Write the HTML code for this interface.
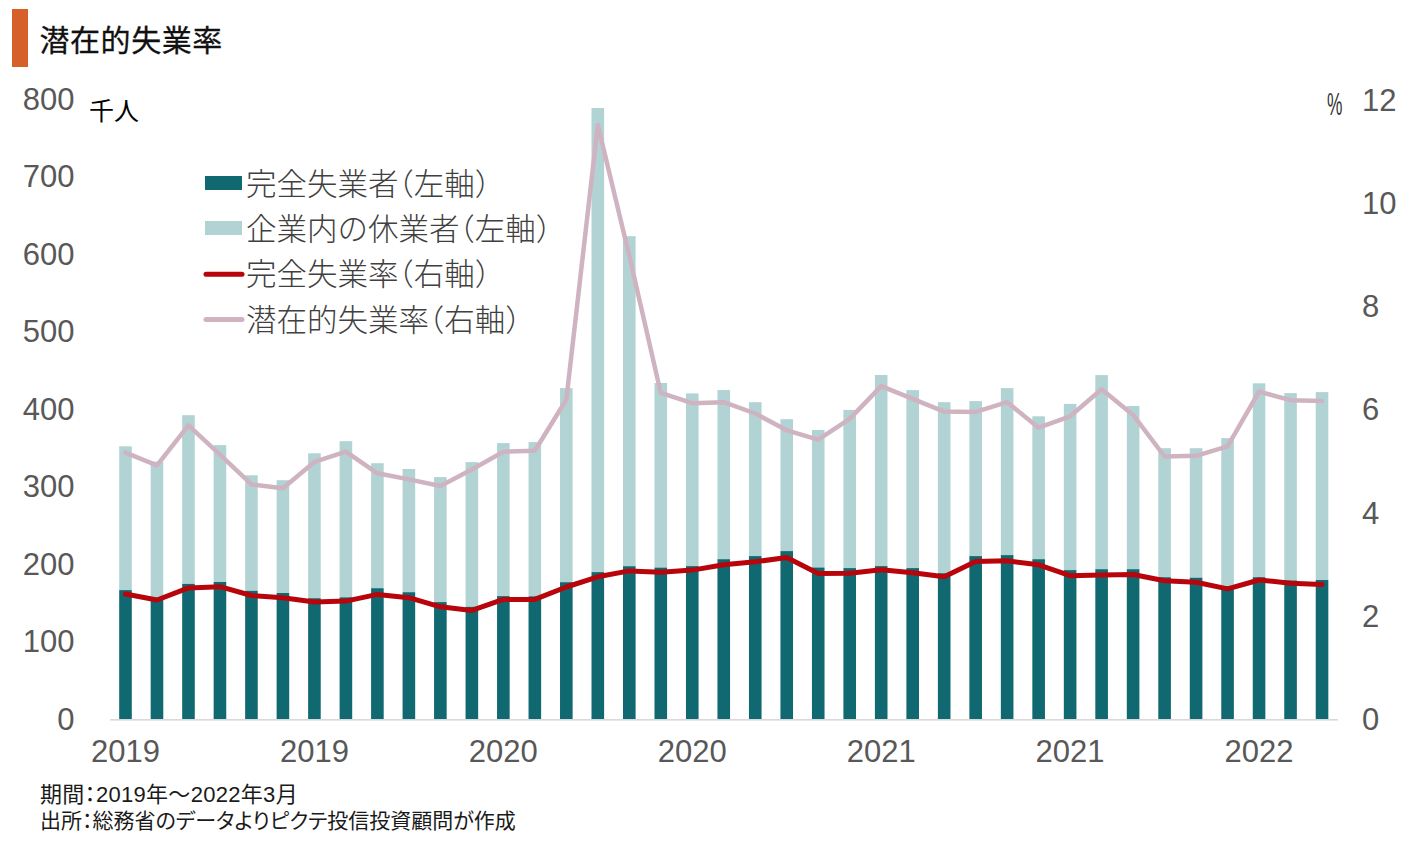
<!DOCTYPE html>
<html lang="ja"><head><meta charset="utf-8"><title>潜在的失業率</title>
<style>
html,body{margin:0;padding:0;background:#fff;}
body{width:1418px;height:842px;position:relative;overflow:hidden;font-family:'Liberation Sans','Noto Sans CJK JP',sans-serif;}
.bar{position:absolute;left:12px;top:9px;width:16px;height:58px;background:#D6602A;}
.title{position:absolute;left:39.5px;top:19px;font-size:30px;font-weight:400;letter-spacing:0.55px;color:#111;-webkit-text-stroke:0.3px #111;line-height:44px;white-space:nowrap;}
.unit{position:absolute;left:89px;top:95px;font-size:25px;font-weight:400;color:#000;line-height:32px;white-space:nowrap;}
.pct{position:absolute;left:1326.5px;top:86.5px;font-size:31px;color:#333;line-height:36px;transform:scaleX(0.56);transform-origin:left center;}
.foot{position:absolute;left:40px;font-size:20px;color:#1a1a1a;line-height:26px;white-space:nowrap;}
.hc{font-feature-settings:"halt";}
svg{position:absolute;left:0;top:0;}
svg text{font-family:'Liberation Sans','Noto Sans CJK JP',sans-serif;}
.ax text{font-size:31px;fill:#585858;}
.lg text{font-size:30.5px;font-weight:300;fill:#404040;}
.p{font-feature-settings:"halt";}
</style></head><body>
<div class="bar"></div>
<div class="title">潜在的失業率</div>
<svg width="1418" height="842" viewBox="0 0 1418 842">
<g>
<rect x="119.19" y="446.3" width="12.6" height="143.8" fill="#B2D3D4"/>
<rect x="119.19" y="590.1" width="12.6" height="128.9" fill="#106870"/>
<rect x="150.68" y="461.6" width="12.6" height="135.9" fill="#B2D3D4"/>
<rect x="150.68" y="597.5" width="12.6" height="121.5" fill="#106870"/>
<rect x="182.17" y="415.2" width="12.6" height="168.7" fill="#B2D3D4"/>
<rect x="182.17" y="583.9" width="12.6" height="135.1" fill="#106870"/>
<rect x="213.65" y="445.1" width="12.6" height="136.9" fill="#B2D3D4"/>
<rect x="213.65" y="582.0" width="12.6" height="137.0" fill="#106870"/>
<rect x="245.14" y="475.3" width="12.6" height="115.5" fill="#B2D3D4"/>
<rect x="245.14" y="590.8" width="12.6" height="128.2" fill="#106870"/>
<rect x="276.63" y="480.2" width="12.6" height="112.8" fill="#B2D3D4"/>
<rect x="276.63" y="593.0" width="12.6" height="126.0" fill="#106870"/>
<rect x="308.12" y="453.3" width="12.6" height="144.9" fill="#B2D3D4"/>
<rect x="308.12" y="598.2" width="12.6" height="120.8" fill="#106870"/>
<rect x="339.61" y="441.2" width="12.6" height="156.1" fill="#B2D3D4"/>
<rect x="339.61" y="597.3" width="12.6" height="121.7" fill="#106870"/>
<rect x="371.09" y="463.2" width="12.6" height="125.0" fill="#B2D3D4"/>
<rect x="371.09" y="588.2" width="12.6" height="130.8" fill="#106870"/>
<rect x="402.58" y="469.0" width="12.6" height="123.2" fill="#B2D3D4"/>
<rect x="402.58" y="592.2" width="12.6" height="126.8" fill="#106870"/>
<rect x="434.07" y="477.1" width="12.6" height="125.0" fill="#B2D3D4"/>
<rect x="434.07" y="602.1" width="12.6" height="116.9" fill="#106870"/>
<rect x="465.56" y="462.1" width="12.6" height="144.7" fill="#B2D3D4"/>
<rect x="465.56" y="606.8" width="12.6" height="112.2" fill="#106870"/>
<rect x="497.05" y="443.1" width="12.6" height="153.0" fill="#B2D3D4"/>
<rect x="497.05" y="596.1" width="12.6" height="122.9" fill="#106870"/>
<rect x="528.53" y="442.1" width="12.6" height="154.2" fill="#B2D3D4"/>
<rect x="528.53" y="596.3" width="12.6" height="122.7" fill="#106870"/>
<rect x="560.02" y="388.1" width="12.6" height="194.1" fill="#B2D3D4"/>
<rect x="560.02" y="582.2" width="12.6" height="136.8" fill="#106870"/>
<rect x="591.51" y="108.0" width="12.6" height="464.1" fill="#B2D3D4"/>
<rect x="591.51" y="572.1" width="12.6" height="146.9" fill="#106870"/>
<rect x="623.00" y="236.2" width="12.6" height="330.0" fill="#B2D3D4"/>
<rect x="623.00" y="566.2" width="12.6" height="152.8" fill="#106870"/>
<rect x="654.49" y="383.0" width="12.6" height="184.6" fill="#B2D3D4"/>
<rect x="654.49" y="567.6" width="12.6" height="151.4" fill="#106870"/>
<rect x="685.97" y="393.4" width="12.6" height="172.7" fill="#B2D3D4"/>
<rect x="685.97" y="566.1" width="12.6" height="152.9" fill="#106870"/>
<rect x="717.46" y="390.1" width="12.6" height="169.1" fill="#B2D3D4"/>
<rect x="717.46" y="559.2" width="12.6" height="159.8" fill="#106870"/>
<rect x="748.95" y="402.2" width="12.6" height="153.9" fill="#B2D3D4"/>
<rect x="748.95" y="556.1" width="12.6" height="162.9" fill="#106870"/>
<rect x="780.44" y="419.2" width="12.6" height="131.9" fill="#B2D3D4"/>
<rect x="780.44" y="551.1" width="12.6" height="167.9" fill="#106870"/>
<rect x="811.93" y="430.0" width="12.6" height="137.5" fill="#B2D3D4"/>
<rect x="811.93" y="567.5" width="12.6" height="151.5" fill="#106870"/>
<rect x="843.41" y="409.9" width="12.6" height="158.2" fill="#B2D3D4"/>
<rect x="843.41" y="568.1" width="12.6" height="150.9" fill="#106870"/>
<rect x="874.90" y="375.0" width="12.6" height="191.1" fill="#B2D3D4"/>
<rect x="874.90" y="566.1" width="12.6" height="152.9" fill="#106870"/>
<rect x="906.39" y="390.1" width="12.6" height="178.0" fill="#B2D3D4"/>
<rect x="906.39" y="568.1" width="12.6" height="150.9" fill="#106870"/>
<rect x="937.88" y="402.2" width="12.6" height="171.0" fill="#B2D3D4"/>
<rect x="937.88" y="573.2" width="12.6" height="145.8" fill="#106870"/>
<rect x="969.37" y="401.1" width="12.6" height="155.0" fill="#B2D3D4"/>
<rect x="969.37" y="556.1" width="12.6" height="162.9" fill="#106870"/>
<rect x="1000.85" y="388.1" width="12.6" height="167.0" fill="#B2D3D4"/>
<rect x="1000.85" y="555.1" width="12.6" height="163.9" fill="#106870"/>
<rect x="1032.34" y="416.3" width="12.6" height="142.9" fill="#B2D3D4"/>
<rect x="1032.34" y="559.2" width="12.6" height="159.8" fill="#106870"/>
<rect x="1063.83" y="403.9" width="12.6" height="166.2" fill="#B2D3D4"/>
<rect x="1063.83" y="570.1" width="12.6" height="148.9" fill="#106870"/>
<rect x="1095.32" y="375.1" width="12.6" height="194.1" fill="#B2D3D4"/>
<rect x="1095.32" y="569.2" width="12.6" height="149.8" fill="#106870"/>
<rect x="1126.81" y="406.0" width="12.6" height="163.2" fill="#B2D3D4"/>
<rect x="1126.81" y="569.2" width="12.6" height="149.8" fill="#106870"/>
<rect x="1158.29" y="448.2" width="12.6" height="129.0" fill="#B2D3D4"/>
<rect x="1158.29" y="577.2" width="12.6" height="141.8" fill="#106870"/>
<rect x="1189.78" y="448.2" width="12.6" height="129.5" fill="#B2D3D4"/>
<rect x="1189.78" y="577.7" width="12.6" height="141.3" fill="#106870"/>
<rect x="1221.27" y="438.1" width="12.6" height="148.1" fill="#B2D3D4"/>
<rect x="1221.27" y="586.2" width="12.6" height="132.8" fill="#106870"/>
<rect x="1252.76" y="383.3" width="12.6" height="193.9" fill="#B2D3D4"/>
<rect x="1252.76" y="577.2" width="12.6" height="141.8" fill="#106870"/>
<rect x="1284.25" y="393.1" width="12.6" height="187.3" fill="#B2D3D4"/>
<rect x="1284.25" y="580.4" width="12.6" height="138.6" fill="#106870"/>
<rect x="1315.73" y="392.1" width="12.6" height="187.9" fill="#B2D3D4"/>
<rect x="1315.73" y="580.0" width="12.6" height="139.0" fill="#106870"/>
</g>
<rect x="110" y="719" width="1228" height="1.6" fill="#D9D9D9"/>
<polyline points="125.49,594.0 156.98,600.0 188.47,587.9 219.95,586.7 251.44,595.5 282.93,597.7 314.42,602.0 345.91,601.1 377.39,594.4 408.88,597.7 440.37,606.8 471.86,610.4 503.35,599.4 534.83,599.4 566.32,587.0 597.81,576.8 629.30,570.9 660.79,572.3 692.27,570.1 723.76,564.8 755.25,561.8 786.74,557.4 818.23,573.5 849.71,573.2 881.20,569.7 912.69,572.8 944.18,576.8 975.67,561.4 1007.15,560.8 1038.64,564.8 1070.13,575.7 1101.62,575.1 1133.11,574.5 1164.59,580.8 1196.08,582.2 1227.57,588.9 1259.06,580.0 1290.55,583.2 1322.03,584.4" fill="none" stroke="#B8050C" stroke-width="5" stroke-linejoin="round" stroke-linecap="round"/>
<polyline points="125.49,452.7 156.98,465.4 188.47,425.4 219.95,454.6 251.44,484.4 282.93,488.2 314.42,461.9 345.91,451.7 377.39,473.3 408.88,479.4 440.37,486.0 471.86,469.5 503.35,451.7 534.83,450.8 566.32,399.7 597.81,125.0 629.30,255.8 660.79,392.9 692.27,403.2 723.76,402.2 755.25,413.5 786.74,430.3 818.23,439.7 849.71,418.9 881.20,386.1 912.69,398.9 944.18,411.6 975.67,411.9 1007.15,402.2 1038.64,427.7 1070.13,416.3 1101.62,389.2 1133.11,414.9 1164.59,456.5 1196.08,455.8 1227.57,446.4 1259.06,391.7 1290.55,400.2 1322.03,400.9" fill="none" stroke="#CFB3C1" stroke-width="4.5" stroke-linejoin="round" stroke-linecap="round"/>
<g class="ax">
<text x="74.5" y="719.0" text-anchor="end" dominant-baseline="central">0</text>
<text x="74.5" y="641.5" text-anchor="end" dominant-baseline="central">100</text>
<text x="74.5" y="564.0" text-anchor="end" dominant-baseline="central">200</text>
<text x="74.5" y="486.5" text-anchor="end" dominant-baseline="central">300</text>
<text x="74.5" y="409.0" text-anchor="end" dominant-baseline="central">400</text>
<text x="74.5" y="331.5" text-anchor="end" dominant-baseline="central">500</text>
<text x="74.5" y="254.0" text-anchor="end" dominant-baseline="central">600</text>
<text x="74.5" y="176.5" text-anchor="end" dominant-baseline="central">700</text>
<text x="74.5" y="99.0" text-anchor="end" dominant-baseline="central">800</text>
<text x="1362" y="719.8" dominant-baseline="central">0</text>
<text x="1362" y="616.5" dominant-baseline="central">2</text>
<text x="1362" y="513.2" dominant-baseline="central">4</text>
<text x="1362" y="409.9" dominant-baseline="central">6</text>
<text x="1362" y="306.6" dominant-baseline="central">8</text>
<text x="1362" y="203.3" dominant-baseline="central">10</text>
<text x="1362" y="100.0" dominant-baseline="central">12</text>
<text x="125.5" y="751.8" text-anchor="middle" dominant-baseline="central">2019</text>
<text x="314.4" y="751.8" text-anchor="middle" dominant-baseline="central">2019</text>
<text x="503.3" y="751.8" text-anchor="middle" dominant-baseline="central">2020</text>
<text x="692.3" y="751.8" text-anchor="middle" dominant-baseline="central">2020</text>
<text x="881.2" y="751.8" text-anchor="middle" dominant-baseline="central">2021</text>
<text x="1070.1" y="751.8" text-anchor="middle" dominant-baseline="central">2021</text>
<text x="1259.1" y="751.8" text-anchor="middle" dominant-baseline="central">2022</text>
</g>
<g class="lg">
<rect x="205" y="176" width="37" height="14" fill="#106870"/>
<rect x="205" y="221" width="37" height="14" fill="#B2D3D4"/>
<line x1="206" y1="274.3" x2="242" y2="274.3" stroke="#B8050C" stroke-width="5" stroke-linecap="round"/>
<line x1="206" y1="319.4" x2="242" y2="319.4" stroke="#CFB3C1" stroke-width="5" stroke-linecap="round"/>
<text x="246" y="183.5" dominant-baseline="central">完全失業者<tspan class="p">（</tspan>左軸<tspan class="p">）</tspan></text>
<text x="246" y="228.5" dominant-baseline="central">企業内の休業者<tspan class="p">（</tspan>左軸<tspan class="p">）</tspan></text>
<text x="246" y="274" dominant-baseline="central">完全失業率<tspan class="p">（</tspan>右軸<tspan class="p">）</tspan></text>
<text x="246" y="319.5" dominant-baseline="central">潜在的失業率<tspan class="p">（</tspan>右軸<tspan class="p">）</tspan></text>
</g>
</svg>
<div class="unit">千人</div>
<div class="pct">%</div>
<div class="foot" style="top:782px;font-size:22px;letter-spacing:0.3px;">期間<span class="hc">：</span>2019年～2022年3月</div>
<div class="foot" style="top:808px;font-size:21px;font-feature-settings:'palt';">出所：総務省のデータよりピクテ投信投資顧問が作成</div>
</body></html>
